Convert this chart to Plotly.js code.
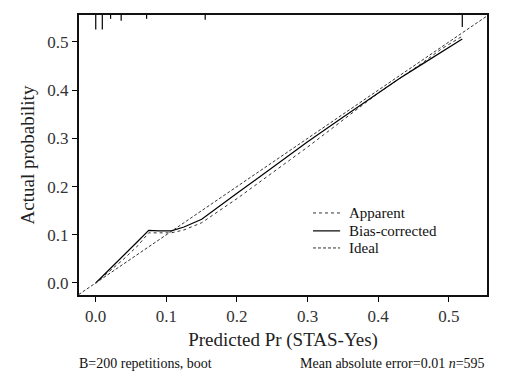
<!DOCTYPE html>
<html>
<head>
<meta charset="utf-8">
<script src="https://cdn.plot.ly/plotly-3.0.1.min.js"></script>
<style>html,body{margin:0;padding:0;background:#fff;}#chart{width:521px;height:380px;}</style>
</head>
<body>
<div id="chart"></div>
<script>
// Data
const apparentX = [0.0, 0.02, 0.04, 0.06, 0.075, 0.09, 0.107, 0.125, 0.15, 0.2, 0.25, 0.3, 0.35, 0.4, 0.43, 0.46, 0.49, 0.519];
const apparentY = [0.0, 0.025, 0.05, 0.078, 0.104, 0.104, 0.104, 0.11, 0.125, 0.175, 0.228, 0.282, 0.338, 0.394, 0.424, 0.454, 0.486, 0.512];
const biasX = [0.0, 0.02, 0.04, 0.06, 0.075, 0.09, 0.107, 0.125, 0.15, 0.2, 0.25, 0.3, 0.35, 0.4, 0.43, 0.46, 0.49, 0.519];
const biasY = [0.0, 0.03, 0.058, 0.087, 0.109, 0.108, 0.108, 0.116, 0.132, 0.186, 0.24, 0.293, 0.344, 0.395, 0.424, 0.452, 0.48, 0.506];
const idealX = [-0.03, 0.56];
const idealY = [-0.03, 0.56];
const rugX = [0.0, 0.0093, 0.021, 0.036, 0.072, 0.155, 0.519];
const rugLen = [0.03, 0.03, 0.008, 0.012, 0.008, 0.01, 0.025];
const xTicks = [0.0, 0.1, 0.2, 0.3, 0.4, 0.5];
const yTicks = [0.0, 0.1, 0.2, 0.3, 0.4, 0.5];
const legendNames = ['Apparent', 'Bias-corrected', 'Ideal'];
const xRange = [-0.0237, 0.554];
const yRange = [-0.025, 0.556];

const rugXs = [], rugYs = [];
rugX.forEach((x, i) => {
  rugXs.push(x, x, null);
  rugYs.push(yRange[1], yRange[1] - rugLen[i], null);
});

const serif = "'Liberation Serif', 'Times New Roman', serif";
const styles = [
  {color: '#333', width: 1, dash: 'dot'},
  {color: '#000', width: 1.2, dash: 'solid'},
  {color: '#333', width: 1, dash: '3px,2px'}
];
const traces = [
  {x: apparentX, y: apparentY, mode: 'lines', name: legendNames[0], line: styles[0]},
  {x: biasX, y: biasY, mode: 'lines', name: legendNames[1], line: styles[1]},
  {x: idealX, y: idealY, mode: 'lines', name: legendNames[2], line: styles[2]},
  {x: rugXs, y: rugYs, mode: 'lines', hoverinfo: 'skip', line: {color: '#000', width: 1.2}}
];

// Manual legend (shapes for samples, annotations for text)
const legY = [0.293, 0.229, 0.168];
const shapes = legendNames.map((n, i) => ({
  type: 'line', xref: 'paper', yref: 'paper', x0: 0.5735, x1: 0.64, y0: legY[i], y1: legY[i],
  line: styles[i]
}));
const legAnn = legendNames.map((n, i) => ({
  xref: 'paper', yref: 'paper', x: 0.657, y: legY[i], xanchor: 'left', yanchor: 'middle',
  text: n, showarrow: false, font: {family: serif, size: 15, color: '#111'}
}));

const layout = {
  width: 521, height: 380,
  margin: {l: 79, r: 34, t: 15, b: 85},
  paper_bgcolor: '#fff', plot_bgcolor: '#fff',
  font: {family: serif, color: '#222', size: 17},
  showlegend: false,
  shapes: shapes,
  xaxis: {range: xRange, tickvals: xTicks, tickformat: '.1f', ticks: 'outside', ticklen: 5,
          tickcolor: '#000', showgrid: false, zeroline: false, showline: true, mirror: true,
          linecolor: '#111', linewidth: 2, tickfont: {family: serif, size: 17, color: '#333'},
          title: {text: 'Predicted Pr (STAS-Yes)', font: {family: serif, size: 19, color: '#222'}, standoff: 7}},
  yaxis: {range: yRange, tickvals: yTicks, tickformat: '.1f', ticks: 'outside', ticklen: 5,
          tickcolor: '#000', showgrid: false, zeroline: false, showline: true, mirror: true,
          linecolor: '#111', linewidth: 2, tickfont: {family: serif, size: 17, color: '#333'},
          title: {text: 'Actual probability', font: {family: serif, size: 19, color: '#222'}, standoff: 8}},
  annotations: legAnn.concat([
    {xref: 'paper', yref: 'paper', x: -0.005, y: -0.246, xanchor: 'left', yanchor: 'middle',
     text: 'B=200 repetitions, boot', showarrow: false, font: {family: serif, size: 14, color: '#111'}},
    {xref: 'paper', yref: 'paper', x: 1.0, y: -0.246, xanchor: 'right', yanchor: 'middle',
     text: 'Mean absolute error=0.01 <i>n</i>=595', showarrow: false, font: {family: serif, size: 14, color: '#111'}}
  ])
};

Plotly.newPlot('chart', traces, layout, {displayModeBar: false, staticPlot: true});
</script>
</body>
</html>
